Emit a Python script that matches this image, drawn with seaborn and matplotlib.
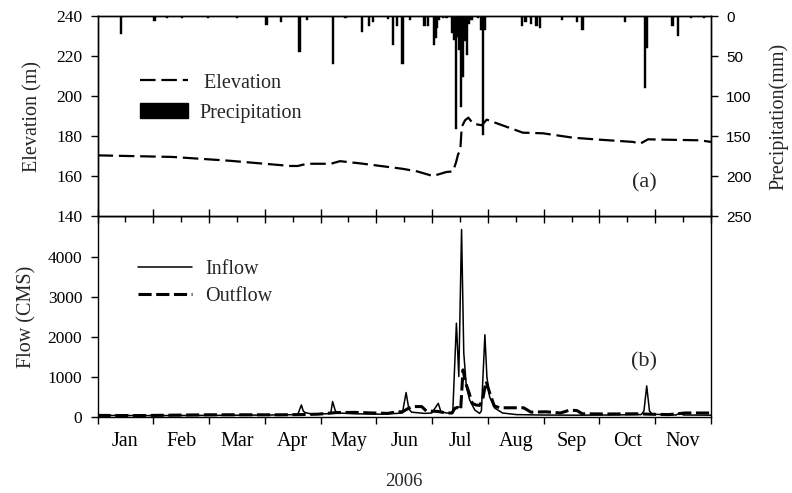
import numpy as np
import pandas as pd
import matplotlib
matplotlib.use("Agg")
import matplotlib.pyplot as plt
import seaborn as sns
from matplotlib.lines import Line2D
from matplotlib.patches import Patch

# ---------------- data ----------------
month_labels = ["Jan", "Feb", "Mar", "Apr", "May", "Jun", "Jul", "Aug", "Sep", "Oct", "Nov"]
n_days = 334

precip_day = [13, 31, 38, 46, 60, 76, 92, 100, 110, 114, 128, 135, 144, 148, 150, 158, 161, 163,
              166, 170, 178, 180, 183, 184, 185, 186, 188, 190, 193, 194, 195, 196, 197, 198,
              199, 200, 201, 202, 203, 204, 207, 209, 210, 211, 231, 233, 236, 239, 241, 253, 261,
              264, 287, 298, 299, 313, 316, 323, 330]
precip_mm = [23, 6, 3, 3, 2, 3, 11, 8, 45, 5, 60, 3, 20, 13, 8, 4, 36, 12,
             60, 5, 13, 12, 36, 27, 15, 5, 3, 3, 21, 30, 141, 26, 42, 113,
             76, 31, 49, 10, 5, 5, 3, 17, 149, 17, 12, 8, 10, 12, 15, 5, 8,
             17, 8, 90, 40, 12, 25, 3, 3]

elev_day = [0, 41, 72, 105, 109, 114, 127, 132, 143, 166, 174, 182.6, 190, 193.5, 195.2, 196.3,
            197.5, 198.3, 200.1, 201.9, 204.5, 209.2, 211.9, 222.8, 231.6, 242.5, 258.9,
            273.6, 291.6, 295.4, 299.7, 310, 328, 334]
elev_m = [170.5, 169.7, 167.8, 165.2, 165.2, 166.3, 166.3, 167.6, 166.5, 163.8, 162.5, 160.2,
          162.2, 162.5, 167.0, 171.0, 173.0, 184.7, 188.0, 189.3, 186.3, 185.5, 188.3, 184.7,
          181.8, 181.5, 179.3, 178.3, 177.2, 176.3, 178.5, 178.3, 178.0, 177.2]

inflow_day = [0, 30, 60, 95, 109, 111, 112, 113, 116, 125, 127, 128, 129.5, 131, 140, 155, 163,
              166, 168, 169.5, 171, 178, 182, 185.5, 187, 190, 193.4, 195.4, 196.7, 198.2,
              199.4, 200.8, 202.6, 205.4, 208, 209, 210.9, 212, 213.5, 216.2, 220.5, 228,
              240, 260, 280, 296, 297.5, 299, 300.5, 302, 315, 317, 319, 334]
inflow_cms = [40, 35, 40, 50, 60, 300, 150, 110, 80, 80, 100, 385, 150, 100, 80, 70, 90,
              100, 610, 200, 120, 90, 100, 340, 130, 100, 100, 2340, 1010, 4675,
              1600, 760, 425, 175, 90, 150, 2050, 1000, 500, 225, 100, 60,
              50, 45, 50, 60, 150, 775, 150, 70, 50, 100, 50, 45]

outflow_day = [0, 20, 40, 60, 80, 100, 110, 120, 130, 140, 150, 158, 163, 166, 171, 176.5, 179,
               185, 190, 193, 194.5, 196, 197.7, 199, 200.5, 202.3, 204, 206, 208, 209.5,
               211.6, 213.5, 216, 219, 232, 236, 244, 252, 257, 261, 264, 278, 294, 300,
               311, 320, 334]
outflow_cms = [40, 35, 45, 55, 55, 55, 60, 70, 110, 115, 100, 90, 130, 130, 260, 260, 150,
               140, 100, 100, 215, 240, 175, 1175, 840, 600, 340, 300, 290, 400,
               890, 600, 275, 230, 230, 120, 130, 100, 170, 160, 80, 75, 80, 70,
               60, 100, 100]

# ---------------- style ----------------
sns.set_theme(style="ticks")
plt.rcParams["font.family"] = ["Liberation Serif", "DejaVu Serif"]
plt.rcParams["axes.linewidth"] = 1.0
plt.rcParams["axes.edgecolor"] = "black"
plt.rcParams["xtick.color"] = "black"
plt.rcParams["ytick.color"] = "black"

W, H = 792, 493
fig = plt.figure(figsize=(W / 100, H / 100), dpi=100)
x0, x1 = 97.5, 711
ytop, ymid, ybot = 16, 216.5, 417
ax_bot = fig.add_axes([x0 / W, 1 - ybot / H, (x1 - x0) / W, (ybot - ymid) / H])
ax_top = fig.add_axes([x0 / W, 1 - ymid / H, (x1 - x0) / W, (ymid - ytop) / H], sharex=ax_bot)
ax_pr = ax_top.twinx()

# ---------------- top panel ----------------
df_el = pd.DataFrame({"day": elev_day, "elev": elev_m})
sns.lineplot(data=df_el, x="day", y="elev", ax=ax_top, color="black", lw=1.6,
             linestyle=(0, (7, 2.6)), sort=False)

df_pr = pd.DataFrame({"day": precip_day, "mm": precip_mm})
sns.barplot(data=df_pr, x="day", y="mm", ax=ax_pr, color="black", native_scale=True,
            width=1.2, errorbar=None, saturation=1, edgecolor="black", linewidth=0.3)
ax_pr.set_ylim(250, 0)
ax_pr.set_yticks([0, 50, 100, 150, 200, 250])
ax_pr.set_yticklabels(["0", "50", "100", "150", "200", "250"], family="Liberation Sans", fontsize=11)
ax_pr.set_ylabel("Precipitation(mm)", fontsize=14.5, labelpad=12)
ax_pr.tick_params(axis="y", direction="out", length=5, width=1, pad=6)
ax_pr.set_xlabel("")

ax_top.set_ylim(140, 240)
ax_top.set_yticks([140, 160, 180, 200, 220, 240])
ax_top.tick_params(axis="y", direction="out", length=5, width=1, labelsize=12.5, pad=6)
ax_top.set_ylabel("Elevation (m)", fontsize=14.5, labelpad=10)
ax_top.set_xlabel("")

handles_top = [Line2D([0], [0], color="black", lw=1.6, linestyle=(0, (7, 2.6))),
               Patch(facecolor="black", edgecolor="black")]
leg = ax_pr.legend(handles_top, [" Elevation", "Precipitation"], loc="upper left",
                   bbox_to_anchor=(0.069, 0.715), frameon=False, fontsize=14.5,
                   handlelength=2.4, handleheight=0.8, handletextpad=0.55,
                   labelspacing=0.5, borderpad=0, borderaxespad=0)
ax_top.text(0.892, 0.167, "(a)", transform=ax_top.transAxes, fontsize=16,
            ha="center", va="center")

# ---------------- bottom panel ----------------
df_in = pd.DataFrame({"day": inflow_day, "cms": inflow_cms})
df_out = pd.DataFrame({"day": outflow_day, "cms": outflow_cms})
sns.lineplot(data=df_in, x="day", y="cms", ax=ax_bot, color="black", lw=1.1, sort=False)
sns.lineplot(data=df_out, x="day", y="cms", ax=ax_bot, color="black", lw=2.2,
             linestyle=(0, (4.3, 1.5)), sort=False)
ax_bot.set_ylim(0, 5000)
ax_bot.set_yticks([0, 1000, 2000, 3000, 4000])
ax_bot.tick_params(axis="y", direction="out", length=5, width=1, labelsize=12.5, pad=6)
ax_bot.set_ylabel("Flow (CMS)", fontsize=14.5, labelpad=8)
ax_bot.set_xlabel("2006", fontsize=13.5, labelpad=16)
handles_bot = [Line2D([0], [0], color="black", lw=1.1),
               Line2D([0], [0], color="black", lw=2.2, linestyle=(0, (4.3, 1.5)))]
ax_bot.legend(handles_bot, ["Inflow", "Outflow"], loc="upper left",
              bbox_to_anchor=(0.066, 0.785), frameon=False, fontsize=14.5,
              handlelength=2.7, handletextpad=0.65, labelspacing=0.4,
              borderpad=0, borderaxespad=0)
ax_bot.text(0.891, 0.276, "(b)", transform=ax_bot.transAxes, fontsize=16,
            ha="center", va="center")

# ---------------- x axis ----------------
edges = np.linspace(0, n_days, len(month_labels) + 1)
mids = (edges[:-1] + edges[1:]) / 2
ax_bot.set_xlim(0, n_days)
ax_bot.set_xticks(edges)
ax_bot.set_xticks(mids, minor=True)
ax_bot.set_xticklabels([])
ax_bot.set_xticklabels(month_labels, minor=True, fontsize=14.5)
ax_bot.tick_params(axis="x", which="major", direction="out", length=5, width=1)
ax_bot.tick_params(axis="x", which="minor", length=0, pad=11)
ax_top.tick_params(axis="x", which="both", labelbottom=False)
ax_top.tick_params(axis="x", which="major", direction="inout", length=9.5, width=1)
ax_pr.tick_params(axis="x", which="both", bottom=False, labelbottom=False)

for a in (ax_top, ax_bot, ax_pr):
    for s in a.spines.values():
        s.set_visible(True)
        s.set_color("black")
        s.set_linewidth(1.0)
ax_bot.tick_params(axis="y", right=False)
ax_bot.patch.set_alpha(0)

fig.savefig("out.png", dpi=100)
